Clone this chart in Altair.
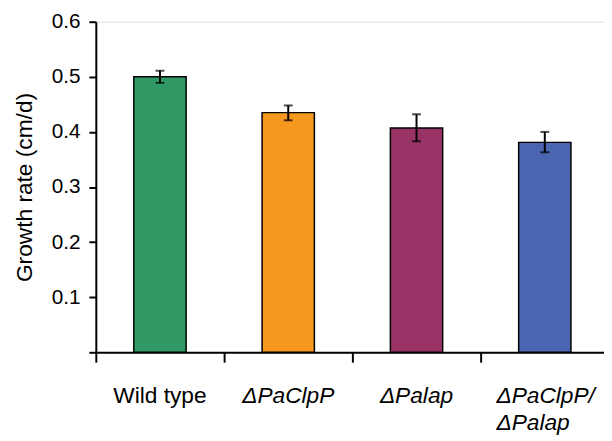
import altair as alt
import pandas as pd

strains = ["Wild type", "ΔPaClpP", "ΔPalap", "ΔPaClpP/ΔPalap"]
growth = [0.500, 0.435, 0.407, 0.381]
err_low = [0.489, 0.421, 0.383, 0.363]
err_high = [0.511, 0.448, 0.432, 0.400]
colors = ["#319966", "#F7991E", "#993366", "#4A66B0"]
y_ticks = [0.0, 0.1, 0.2, 0.3, 0.4, 0.5, 0.6]

df = pd.DataFrame({"strain": strains, "growth": growth,
                   "lo": err_low, "hi": err_high})

FONT = "Liberation Sans"
LAST = "ΔPaClpP/ΔPalap"

x_scale = alt.Scale(domain=strains, paddingInner=0, paddingOuter=0)
x_axis = alt.Axis(
    bandPosition=0,
    domainColor="black", domainWidth=2,
    tickColor="black", tickWidth=2, tickSize=10,
    labelFont=FONT, labelFontSize=23, labelColor="black",
    labelPadding=23, labelAngle=0, labelLineHeight=27,
    labelAlign={"condition": {"test": f"datum.value == '{LAST}'", "value": "left"}, "value": "center"},
    labelOffset={"condition": {"test": f"datum.value == '{LAST}'", "value": -49}, "value": 0},
    labelFontStyle={"condition": {"test": "datum.value == 'Wild type'", "value": "normal"}, "value": "italic"},
    labelExpr=f"datum.value == '{LAST}' ? ['ΔPaClpP/', 'ΔPalap'] : datum.value",
    labelBaseline="top",
)
x = alt.X("strain:N", sort=strains, title=None, scale=x_scale, axis=x_axis)

y_scale = alt.Scale(domain=[0, 0.6], nice=False, zero=True)
y = alt.Y("growth:Q", scale=y_scale, title="Growth rate (cm/d)",
          axis=alt.Axis(values=y_ticks, format=".1f",
                        labelExpr="datum.value == 0 ? '' : datum.label",
                        grid=False, domainColor="black", domainWidth=2,
                        tickColor="black", tickWidth=2, tickSize=7,
                        labelFont=FONT, labelFontSize=21, labelColor="black",
                        labelPadding=9,
                        titleFont=FONT, titleFontSize=23, titleFontWeight="normal",
                        titleColor="black", titlePadding=15))

bars = alt.Chart(df).mark_bar(size=53, stroke="black", strokeWidth=1.5).encode(
    x=x, y=y,
    color=alt.Color("strain:N", scale=alt.Scale(domain=strains, range=colors), legend=None),
)

rule = alt.Chart(df).mark_rule(color="black", strokeWidth=2).encode(
    x=x,
    y=alt.Y("lo:Q", scale=y_scale),
    y2="hi:Q",
)
cap_lo = alt.Chart(df).mark_tick(color="black", size=9, thickness=2, orient="horizontal").encode(
    x=x, y=alt.Y("lo:Q", scale=y_scale))
cap_hi = alt.Chart(df).mark_tick(color="black", size=9, thickness=2, orient="horizontal").encode(
    x=x, y=alt.Y("hi:Q", scale=y_scale))

chart = alt.layer(bars, rule, cap_lo, cap_hi).properties(
    width=520, height=335,
    autosize=alt.AutoSizeParams(type="none"),
    padding={"left": 89, "top": 11, "right": -5, "bottom": 87},
).configure_view(stroke=None).configure(background="white")

chart.save("out.html", embed_options={"renderer": "svg", "actions": False})
